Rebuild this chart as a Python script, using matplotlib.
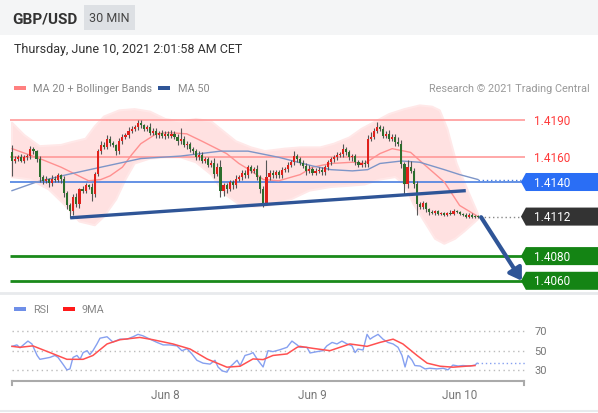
import numpy as np
import matplotlib
matplotlib.use("Agg")
import matplotlib.pyplot as plt
from matplotlib.patches import Polygon, Rectangle

plt.rcParams['font.family'] = ['Roboto', 'DejaVu Sans']

W, H = 598, 414

# ---- data (30 min bars, bar 0 = first visible candle) ----
first_open = 1.4164
closes = [
    1.4157, 1.4159, 1.4160, 1.4157, 1.4160, 1.4161, 1.41665, 1.4165, 1.4159, 1.4144,
    1.4141, 1.41425, 1.4139, 1.41425, 1.4142, 1.41455, 1.41425, 1.4131, 1.4121, 1.41165,
    1.4128, 1.4122, 1.41345, 1.4133, 1.41375, 1.4136, 1.4130, 1.41465, 1.4165, 1.4170,
    1.41685, 1.4175, 1.41715, 1.4170, 1.4165, 1.4173, 1.41765, 1.4178, 1.41815, 1.4183,
    1.41845, 1.4188, 1.4186, 1.4183, 1.41845, 1.4180, 1.41815, 1.4178, 1.4180, 1.41775,
    1.4179, 1.41775, 1.4179, 1.41765, 1.4173, 1.4175, 1.4170, 1.4171, 1.41665, 1.4165,
    1.4160, 1.4162, 1.4157, 1.41585, 1.4154, 1.41555, 1.41465, 1.4152, 1.4133, 1.41375,
    1.41345, 1.4140, 1.41375, 1.41425, 1.4144, 1.41475, 1.41455, 1.4152, 1.4149, 1.41505,
    1.4144, 1.41345, 1.4123, 1.4144, 1.41475, 1.41455, 1.4148, 1.41455, 1.4150, 1.41505,
    1.4154, 1.4156, 1.4161, 1.41585, 1.41555, 1.4153, 1.4149, 1.41505, 1.41475, 1.4149,
    1.4150, 1.4148, 1.4152, 1.4156, 1.41585, 1.4160, 1.4162, 1.41625, 1.41665, 1.4164,
    1.4160, 1.4161, 1.4156, 1.4154, 1.41555, 1.41545, 1.4175, 1.41765, 1.41815, 1.41845,
    1.4183, 1.41775, 1.4179, 1.4175, 1.41765, 1.41725, 1.4171, 1.41545, 1.41385, 1.4152,
    1.4149, 1.41385, 1.4122, 1.4120, 1.4123, 1.4118, 1.41155, 1.4115, 1.41165, 1.4114,
    1.4115, 1.41135, 1.4115, 1.4114, 1.41165, 1.41155, 1.4114, 1.41135, 1.4112, 1.41135,
    1.4112, 1.4112, 1.4112,
]
# wick lengths in pips above body top / below body bottom
up_wick = [
    6, 2, 2, 3, 2, 2, 3, 2, 1, 2,  2, 2, 1, 3, 2, 2, 1, 2, 2, 2,
    2, 3, 1, 2, 2, 1, 3, 2, 2, 3,  2, 3, 2, 2, 1, 3, 2, 2, 3, 2,
    2, 2, 2, 1, 2, 3, 2, 2, 1, 2,  2, 2, 3, 2, 2, 9, 2, 2, 1, 2,
    2, 3, 2, 2, 2, 2, 4, 3, 6, 2,  2, 2, 2, 3, 2, 2, 2, 2, 2, 2,
    3, 2, 2, 14, 2, 2, 2, 2, 2, 2, 2, 2, 4, 2, 2, 2, 2, 3, 2, 2,
    2, 2, 2, 2, 2, 2, 2, 2, 4, 2,  2, 2, 2, 2, 2, 2, 3, 4, 2, 4,
    2, 2, 2, 3, 2, 2, 4, 3, 2, 6,  5, 2, 2, 2, 2, 1, 1, 2, 1, 1,
    1, 1, 1, 2, 2, 1, 1, 1, 1, 1,  1, 1, 1,
]
dn_wick = [
    12, 2, 2, 1, 2, 2, 2, 2, 3, 4, 3, 2, 3, 2, 2, 2, 3, 3, 3, 6,
    3, 2, 3, 2, 2, 2, 5, 2, 2, 2,  2, 2, 2, 2, 3, 2, 2, 2, 2, 2,
    2, 2, 2, 2, 2, 2, 2, 2, 2, 2,  3, 2, 2, 2, 3, 2, 2, 3, 2, 2,
    2, 2, 2, 2, 2, 2, 3, 2, 5, 4,  3, 2, 3, 2, 2, 2, 2, 2, 2, 2,
    2, 3, 3, 2, 2, 2, 2, 2, 2, 2,  2, 2, 2, 2, 2, 2, 3, 2, 2, 2,
    2, 2, 2, 2, 2, 2, 2, 2, 2, 2,  2, 3, 2, 2, 2, 2, 2, 2, 2, 2,
    2, 2, 2, 2, 2, 3, 2, 3, 8, 3,  2, 3, 9, 2, 2, 2, 2, 1, 2, 1,
    1, 1, 1, 1, 1, 1, 1, 1, 1, 1,  1, 1, 1,
]

ma20_bar = [0, 9, 16, 25, 29, 32, 36, 39, 42, 47, 51, 57, 62, 66, 70, 74, 78, 82, 87,
            94, 98, 104, 111, 115, 120, 124, 130, 135, 141, 146, 152]
ma20 = [1.4167, 1.4159, 1.4152, 1.4141, 1.4142, 1.4145, 1.4152, 1.4162, 1.4171, 1.4179,
        1.4180, 1.4179, 1.4173, 1.4168, 1.4163, 1.4155, 1.4149, 1.4142, 1.4141, 1.4146,
        1.4152, 1.4155, 1.4156, 1.4155, 1.4163, 1.4167, 1.4164, 1.4153, 1.4140, 1.4121, 1.4112]

ma50_bar = [0, 8, 18, 29, 42, 55, 68, 77, 87, 98, 104, 111, 116, 120, 127, 133, 141, 146, 152]
ma50 = [1.4133, 1.4140, 1.4146, 1.4152, 1.4159, 1.4161, 1.4165, 1.4165, 1.4160, 1.4153,
        1.4150, 1.4149, 1.4150, 1.4155, 1.4157, 1.4156, 1.4150, 1.4146, 1.4142]

bb_up_bar = [0, 4, 9, 16, 19, 24, 27, 30, 35, 40, 45, 50, 55, 60, 65, 68, 73, 78, 82.5,
             89, 94, 100.5, 105, 110, 114, 118.5, 123, 128, 133, 137, 139.5, 142, 145, 148.5, 152]
bb_up = [1.4188, 1.4178, 1.4169, 1.4170, 1.4172, 1.4175, 1.4185, 1.4193, 1.4198, 1.4199,
         1.4197, 1.4191, 1.4189, 1.4191, 1.4189, 1.4183, 1.4173, 1.4168, 1.4165,
         1.4167, 1.4168, 1.4168, 1.4171, 1.4176, 1.4183, 1.4189, 1.4195, 1.4199, 1.4202,
         1.4201, 1.4198, 1.4183, 1.4155, 1.4134, 1.4114]
bb_lo_bar = [0, 6, 12, 17, 22, 27, 30, 34, 37, 40, 45, 50, 55, 60, 65, 69.5, 74, 79, 84,
             91, 97, 104, 110, 115, 120, 125, 128, 131, 135, 138, 141, 144.5, 147.5, 152]
bb_lo = [1.4144, 1.4142, 1.4134, 1.4122, 1.4108, 1.4105, 1.4112, 1.4126, 1.4142, 1.4155,
         1.4159, 1.4160, 1.4160, 1.4156, 1.4146, 1.4130, 1.4122, 1.4120, 1.4121,
         1.4126, 1.4133, 1.4136, 1.4137, 1.4138, 1.4142, 1.4144, 1.4138, 1.4122, 1.4106,
         1.4094, 1.4090, 1.4094, 1.4100, 1.4110]

trend_bar = [19, 148]
trend_px = [1.4111, 1.4133]

resistances = [1.4190, 1.4160]
pivot = 1.4140
last_price = 1.4112
supports = [1.4080, 1.4060]

rsi_bar = [0, 1.6, 2.6, 5.2, 6.5, 8.2, 9.1, 10.8, 12.4, 14, 15, 16.6, 17.9, 18.9, 19.9,
           21.2, 22.2, 23.2, 24.5, 25.4, 26.4, 27.7, 28.7, 31, 32.9, 35.2, 37.5, 39.5,
           41.1, 42.7, 45, 47.3, 49.3, 51.5, 53.8, 55.4, 57.1, 58.7, 60.3, 62.3, 64.6,
           66.2, 67.2, 68.5, 70.1, 71.1, 72.1, 73.4, 74.4, 76, 77.6, 78.6, 80.2, 81.9,
           83.5, 85.1, 87.4, 89.7, 91.3, 93, 93.9, 96.2, 97.2, 99.5, 101.4, 102.7, 104.4,
           106, 107.6, 109.3, 110.9, 111.9, 112.8, 114.5, 115.8, 116.8, 117.7, 119.4,
           121, 122.6, 124.3, 125.9, 127.2, 128.2, 129.2, 130.5, 131.4, 133.1, 134.7,
           136.3, 138.6, 140.6, 142.2, 143.8, 145.5, 147.1, 149.4, 151, 151.7]
rsi = [54.5, 56, 53, 60, 57, 45, 41, 42, 43, 45, 43, 36, 30, 31, 43,
       45, 41, 48, 50, 46, 50, 57, 63, 64.5, 59, 62, 62, 64.5,
       67, 65.5, 62, 58.6, 56, 56, 55, 50, 52, 46.5, 40, 37, 36,
       40, 33, 29, 27.6, 33, 36, 40, 34.5, 45, 46.5, 48, 40, 33,
       50, 49, 51, 53.5, 60, 56, 53.5, 53.5, 47.6, 49, 50, 55, 58.6,
       57, 60, 57, 55, 48, 51.7, 50.7, 67, 62, 64, 67,
       62, 58.6, 57, 53.5, 45, 33, 45, 40, 34.5, 34, 31,
       31.7, 31, 31.7, 30, 35, 34, 34.5, 34, 35, 37]
rsi_ma_bar = [0, 2.6, 6.8, 12.4, 17.9, 23.2, 26.4, 31, 35.2, 41.7, 46, 52.5, 58.1, 63.6,
              70.1, 74.4, 78.6, 81.9, 85.1, 89.7, 93, 93.9, 98.2, 103.7, 110.2, 115.8,
              120, 124.3, 127.5, 132.1, 135.4, 139.6, 143.8, 151]
rsi_ma = [54.5, 53.5, 55, 48, 41, 41, 45, 57, 61.4, 63.8, 61.4, 57, 51.7, 41.4,
          32.8, 33.8, 41.4, 40.7, 45, 46.6, 53.5, 54.5, 52.4, 50, 57, 54.5,
          58.6, 62, 57, 45, 37, 33.8, 32.8, 34.5]
rsi_levels = [70, 50, 30]
day_bars = [50, 98, 146]
day_labels = ['Jun 8', 'Jun 9', 'Jun 10']


def fx(x):
    return x / W


def fy(y):
    return 1 - y / H


fig = plt.figure(figsize=(W / 100, H / 100), dpi=100)
fig.patch.set_facecolor('white')

# header strip
fig.patches.append(Rectangle((0, fy(36)), 1, 36 / H, transform=fig.transFigure,
                             facecolor='#f4f5f6', edgecolor='none', zorder=0))
fig.patches.append(Rectangle((fx(84), fy(31)), 51 / W, 25 / H, transform=fig.transFigure,
                             facecolor='#dde0e4', edgecolor='none', zorder=1))
fig.text(fx(12), fy(19), 'GBP/USD', fontsize=11, fontweight='bold', color='#333333', va='center')
fig.text(fx(109.5), fy(19), '30 MIN', fontsize=9, color='#444444', va='center', ha='center')
fig.text(fx(14), fy(50), 'Thursday, June 10, 2021 2:01:58 AM CET', fontsize=9,
         color='#333333', va='center')

# separators
for yy, lw in [(294, 2.0), (412, 1.5)]:
    fig.add_artist(plt.Line2D([0, 1], [fy(yy), fy(yy)], transform=fig.transFigure,
                              color='#e8eaed', lw=lw))

# legends
fig.patches.append(Rectangle((fx(14), fy(91)), 12 / W, 4 / H, transform=fig.transFigure,
                             facecolor='#ff8080', edgecolor='none'))
fig.text(fx(33), fy(89), 'MA 20 + Bollinger Bands', fontsize=7.8, color='#888888', va='center')
fig.patches.append(Rectangle((fx(158), fy(91)), 12 / W, 4 / H, transform=fig.transFigure,
                             facecolor='#2f5597', edgecolor='none'))
fig.text(fx(178), fy(89), 'MA 50', fontsize=7.8, color='#888888', va='center')
fig.text(fx(590), fy(89), 'Research \u00a9 2021 Trading Central', fontsize=7.8,
         color='#9a9a9a', va='center', ha='right')

fig.patches.append(Rectangle((fx(14), fy(312)), 12 / W, 4 / H, transform=fig.transFigure,
                             facecolor='#6f8fe8', edgecolor='none'))
fig.text(fx(33), fy(310), 'RSI', fontsize=7.8, color='#888888', va='center')
fig.patches.append(Rectangle((fx(63), fy(312)), 12 / W, 4 / H, transform=fig.transFigure,
                             facecolor='#ff1a1a', edgecolor='none'))
fig.text(fx(82), fy(310), '9MA', fontsize=7.8, color='#888888', va='center')

# ---- main price panel ----
ax = fig.add_axes([fx(10), fy(290), 517 / W, 195 / H])
ax.axis('off')
ax.set_xlim(-0.652, 167.97)
ax.set_ylim(1.405336, 1.421126)

xr = (-0.6, 167.3)
ax.fill(np.r_[bb_up_bar, bb_lo_bar[::-1]], np.r_[bb_up, bb_lo[::-1]],
        facecolor='#ffe1e1', edgecolor='#ffe8e8', lw=1.5, joinstyle='round', zorder=1)

for lv in resistances:
    ax.hlines(lv, *xr, color='#ff9a9a', lw=1.2, zorder=2)
    ax.text(170.3, lv, f'{lv:.4f}', color='#ff3b3b', fontsize=8.5, va='center', clip_on=False)
ax.hlines(pivot, *xr, color='#4a7fe0', lw=1.2, zorder=2)
for lv in supports:
    ax.hlines(lv, *xr, color='#1a8a1a', lw=2.0, zorder=2)

ax.plot(ma20_bar, ma20, color='#ff9090', lw=1.0, zorder=3)
ax.plot(ma50_bar, ma50, color='#7d95c8', lw=1.0, zorder=3)
ax.plot([ma50_bar[-1], 166], [ma50[-1], ma50[-1]], color='#4a7fe0', lw=1.0,
        ls=(0, (1, 2)), zorder=3)
ax.plot([152.5, 166], [last_price, last_price], color='#888888', lw=1.0,
        ls=(0, (1, 2)), zorder=3)

# candles
c = np.array(closes)
o = np.r_[first_open, c[:-1]]
top = np.maximum(o, c)
bot = np.minimum(o, c)
hi = top + np.array(up_wick) * 0.0001
lo = bot - np.array(dn_wick) * 0.0001
bars = np.arange(len(c))
ax.vlines(bars, lo, hi, color='#555555', lw=0.8, zorder=4)
cols = np.where(c > o, '#e0201b', '#2c6e2c')
ax.bar(bars, np.maximum(top - bot, 0.00008), bottom=bot, width=0.7, color=cols,
       edgecolor='none', zorder=5)

ax.plot(trend_bar, trend_px, color='#2f5597', lw=2.4, solid_capstyle='butt', zorder=6)

ax.annotate('', xy=(166.3, supports[1]), xytext=(153, last_price - 0.00005),
            arrowprops=dict(arrowstyle='-|>,head_length=0.7,head_width=0.45',
                            lw=3, color='#2f5597', shrinkA=0, shrinkB=0),
            annotation_clip=False, zorder=7)


def tag(price, face):
    h = 0.00073
    pts = [(166.0, price), (167.6, price + h), (191.5, price + h),
           (191.5, price - h), (167.6, price - h)]
    ax.add_patch(Polygon(pts, closed=True, facecolor=face, edgecolor='none',
                         clip_on=False, zorder=8))
    ax.text(170.3, price, f'{price:.4f}', color='white', fontsize=8.5, va='center',
            clip_on=False, zorder=9)


tag(pivot, '#2a6ef5')
tag(last_price, '#333333')
for lv in supports:
    tag(lv, '#148414')

# ---- RSI panel ----
ax2 = fig.add_axes([fx(10), fy(382), 517 / W, 62 / H])
ax2.axis('off')
ax2.set_xlim(-0.652, 167.97)
ax2.set_ylim(18.4, 83.0)
for lv in rsi_levels:
    ax2.hlines(lv, 0, 167.3, color='#bbbbbb', lw=1.0, ls=(0, (1, 2.5)))
    ax2.text(170.3, lv, str(lv), color='#777777', fontsize=8, va='center', clip_on=False)
ax2.plot(rsi_bar, rsi, color='#86a0f0', lw=1.0, zorder=3)
ax2.plot(rsi_ma_bar, rsi_ma, color='#ff5050', lw=1.1, zorder=4)
ax2.plot([rsi_bar[-1], 167.3], [rsi[-1], rsi[-1]], color='#86a0f0', lw=1.0,
         ls=(0, (1, 2)), zorder=3)

ax2.plot([0, 167], [18.4, 18.4], color='#aaaaaa', lw=1.5, clip_on=False)
for xb in (0, 167):
    ax2.plot([xb, xb], [18.4, 14.2], color='#aaaaaa', lw=1.5, clip_on=False)
for b, lab in zip(day_bars, day_labels):
    ax2.text(b, 3.85, lab, color='#777777', fontsize=8.5, ha='center', va='center',
             clip_on=False)

fig.savefig('out.png', dpi=100)
